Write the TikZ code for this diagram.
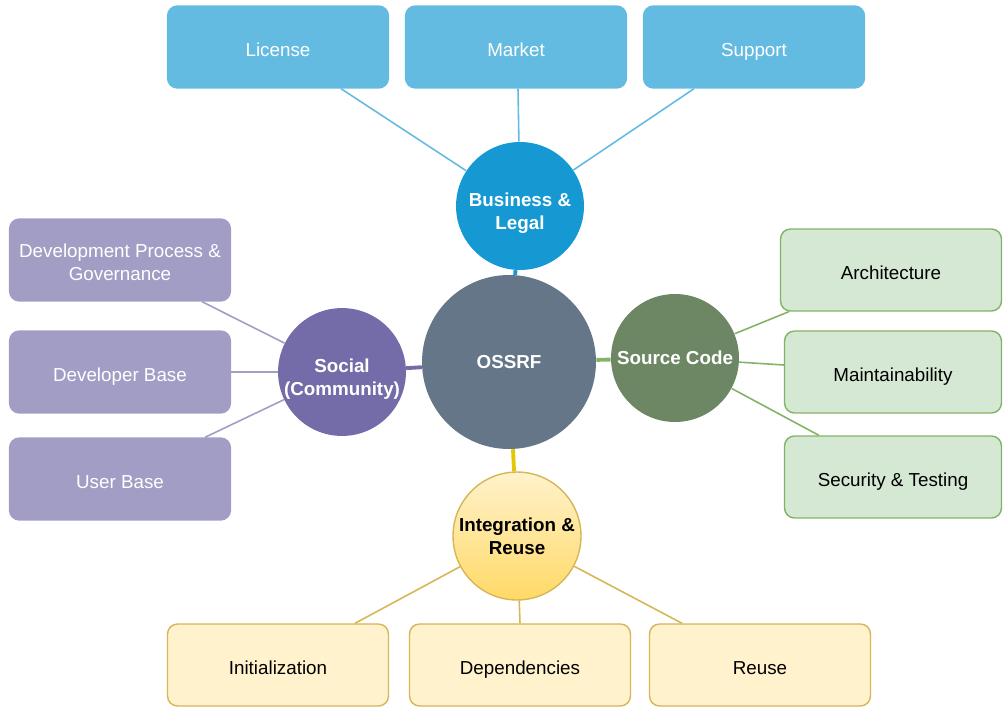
\documentclass[tikz,border=0pt]{standalone}
\usepackage{fontspec}
\setmainfont{Liberation Sans}
\usetikzlibrary{calc,backgrounds}

\definecolor{bizblue}{HTML}{1699D3}
\definecolor{boxblue}{HTML}{64BBE2}
\definecolor{coregray}{HTML}{647687}
\definecolor{socpurple}{HTML}{736CA8}
\definecolor{boxpurple}{HTML}{A29DC5}
\definecolor{srcgreen}{HTML}{6D8764}
\definecolor{boxgreen}{HTML}{D5E8D4}
\definecolor{linegreen}{HTML}{82B366}
\definecolor{boxyellow}{HTML}{FFF2CC}
\definecolor{deepyellow}{HTML}{FFD966}
\definecolor{lineyellow}{HTML}{D6B656}
\definecolor{coreyellow}{HTML}{E3C800}

\tikzset{
    every node/.style={font=\fontsize{10.7}{13}\selectfont},
    leaf/.style={rounded corners=0.2cm, minimum width=4.42cm, minimum height=1.64cm, align=center, line width=0.8pt, execute at begin node={\rule[-3pt]{0pt}{17.2pt}}},
    hub/.style={circle, minimum size=2.56cm, inner sep=0pt, align=center, font=\fontsize{10.7}{13}\selectfont\bfseries, text=white},
    lowtext/.style={execute at begin node={\rule{0pt}{#1}}},
    twig/.style={line width=0.9pt},
    trunk/.style={line width=2.2pt}
}

\begin{document}
\begin{tikzpicture}[x=0.02cm, y=-0.02cm]
    \useasboundingbox (0,0) rectangle (1003,706);
    % hubs
    \node[hub, fill=coregray, minimum size=3.48cm] (core) at (509,362) {OSSRF};
    \node[hub, fill=bizblue] (biz) at (520,206) {\rule{0pt}{16pt}Business \&\\Legal};
    \node[hub, fill=socpurple, minimum size=2.52cm] (soc) at (342,372) {\rule{0pt}{16pt}Social\\(Community)};
    \node[hub, fill=srcgreen] (src) at (675,358) {Source Code};
    \node[hub, draw=lineyellow, line width=0.8pt, top color=boxyellow, bottom color=deepyellow, text=black] (integ) at (517,536) {Integration \&\\Reuse};
    % business & legal
    \node[leaf, fill=boxblue, draw=boxblue, text=white] (lic) at (278,47) {License};
    \node[leaf, fill=boxblue, draw=boxblue, text=white] (mkt) at (516,47) {Market};
    \node[leaf, fill=boxblue, draw=boxblue, text=white] (sup) at (754,47) {Support};
    % social
    \node[leaf, fill=boxpurple, draw=boxpurple, text=white, lowtext=26pt] (devp) at (120,260) {Development Process \&\\Governance};
    \node[leaf, fill=boxpurple, draw=boxpurple, text=white] (devb) at (120,372) {Developer Base};
    \node[leaf, fill=boxpurple, draw=boxpurple, text=white] (user) at (120,479) {User Base};
    % source code
    \node[leaf, fill=boxgreen, draw=linegreen] (arch) at (891,270) {Architecture};
    \node[leaf, fill=boxgreen, draw=linegreen, minimum width=4.34cm] (maint) at (893,372) {Maintainability};
    \node[leaf, fill=boxgreen, draw=linegreen, minimum width=4.34cm] (sec) at (893,477) {Security \& Testing};
    % integration & reuse
    \node[leaf, fill=boxyellow, draw=lineyellow] (init) at (278,665) {Initialization};
    \node[leaf, fill=boxyellow, draw=lineyellow] (dep) at (520,665) {Dependencies};
    \node[leaf, fill=boxyellow, draw=lineyellow] (reu) at (760,665) {Reuse};

    \begin{scope}[on background layer]
        \draw[trunk, bizblue] (core) -- (biz);
        \draw[trunk, socpurple] (core) -- (soc);
        \draw[trunk, linegreen] (core) -- (src);
        \draw[trunk, coreyellow] (core) -- (integ);
    \end{scope}
    \draw[twig, boxblue] ($(lic.south)+(63,0)$) -- (biz);
    \draw[twig, boxblue] ($(mkt.south)+(2,0)$) -- (biz);
    \draw[twig, boxblue] ($(sup.south)+(-60,0)$) -- (biz);
    \draw[twig, boxpurple] ($(devp.south)+(82,0)$) -- (soc);
    \draw[twig, boxpurple] (devb.east) -- (soc);
    \draw[twig, boxpurple] ($(user.north)+(85,0)$) -- (soc);
    \draw[twig, linegreen] ($(arch.south west)+(9,0)$) -- (src);
    \draw[twig, linegreen] ($(maint.west)+(0,-7)$) -- (src);
    \draw[twig, linegreen] ($(sec.north west)+(35,0)$) -- (src);
    \draw[twig, lineyellow] ($(init.north)+(77,0)$) -- (integ);
    \draw[twig, lineyellow] (dep.north) -- (integ);
    \draw[twig, lineyellow] ($(reu.north)+(-78,0)$) -- (integ);
\end{tikzpicture}
\end{document}
